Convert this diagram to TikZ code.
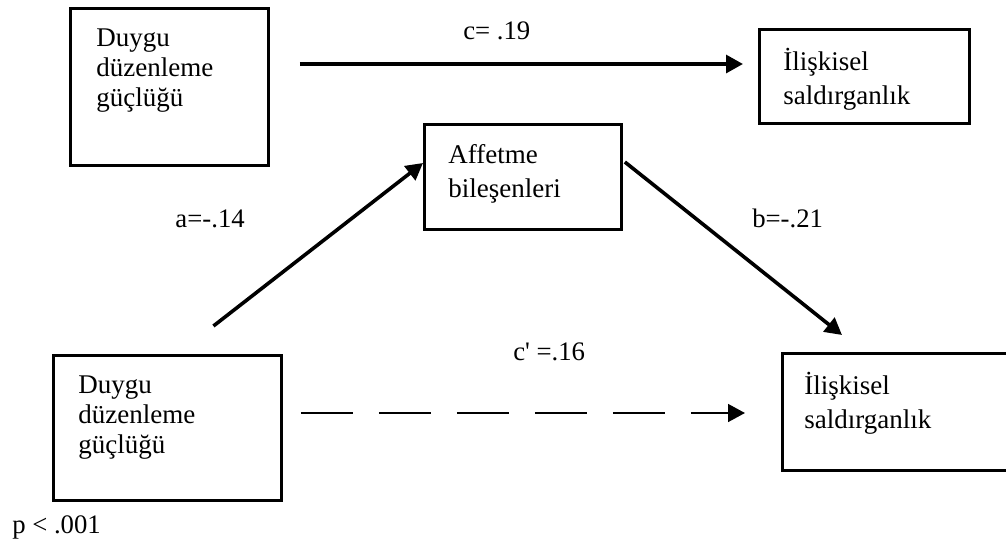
\documentclass[tikz,border=0pt]{standalone}
\usepackage{fontspec}
\setmainfont{Liberation Serif}
\newfontfamily\plainserif{Liberation Serif}
\usetikzlibrary{positioning,arrows.meta}

\begin{document}
\begin{tikzpicture}[
    x=0.025cm, y=-0.025cm,
    base/.style={draw,line width=0.07cm,rectangle,anchor=north west,align=left,inner ysep=0pt,font={\fontsize{19.2pt}{21.3pt}\selectfont}},
    loose/.style={font={\fontsize{19.2pt}{24.1pt}\selectfont}},
    txt/.style={inner sep=0pt,font={\fontsize{19pt}{21.3pt}\selectfont}},
    arr/.style={line width=0.09cm,-{Triangle[length=0.42cm,width=0.44cm]}},
]
\useasboundingbox (0,0) rectangle (1006,548);

    \node[base,inner xsep=0.65cm,text width=3.65cm,text height=0.95cm,text depth=2.975cm] at (69,7) (duyguTop) {Duygu\\düzenleme\\güçlüğü};

    \node[base,loose,inner xsep=0.6cm,text width=4.05cm,text height=1.025cm,text depth=1.325cm] at (758,28) (iliskiTop) {İlişkisel\\saldırganlık};
    \draw[arr] ([shift={(30,57)}]duyguTop.north east) -- ([shift={(-15,36)}]iliskiTop.north west);
    \node[txt,anchor=base west] at (463,39) (labelC) {c= .19};


    \node[base,loose,inner xsep=0.6cm,text width=3.725cm,text height=0.975cm,text depth=1.65cm] at (423,123) (affetme) {Affetme\\bileşenleri};

    \node[base,inner xsep=0.625cm,text width=4.45cm,text height=0.95cm,text depth=2.675cm] at (52,354) (duyguBot) {Duygu\\düzenleme\\güçlüğü};
    \draw[arr] ([shift={(46,-28)}]duyguBot.north) -- ([shift={(0,40)}]affetme.north west);
    \node[txt,anchor=base east] at (245,227) (labelA) {a=-.14};

    \node[base,loose,inner xsep=0.55cm,text width=4.625cm,text height=1.025cm,text depth=1.9cm] at (781,352) (iliskiBot) {İlişkisel\\saldırganlık};
    \draw[arr] ([shift={(2,39)}]affetme.north east) -- ([shift={(61,-17)}]iliskiBot.north west);
    \node[txt,anchor=base west] at (752,227) (labelB) {b=-.21};


    \draw[arr,line width=0.055cm,dash pattern=on 1.3cm off 0.65cm] ([shift={(18,59)}]duyguBot.north east) -- ([shift={(-36,61)}]iliskiBot.north west);
    \node[txt,anchor=base west] at (513,360) (labelCp) {\plainserif c' =.16};

    \node[txt,anchor=base west] at (12,533) (pval) {p < .001};

\end{tikzpicture}
\end{document}
